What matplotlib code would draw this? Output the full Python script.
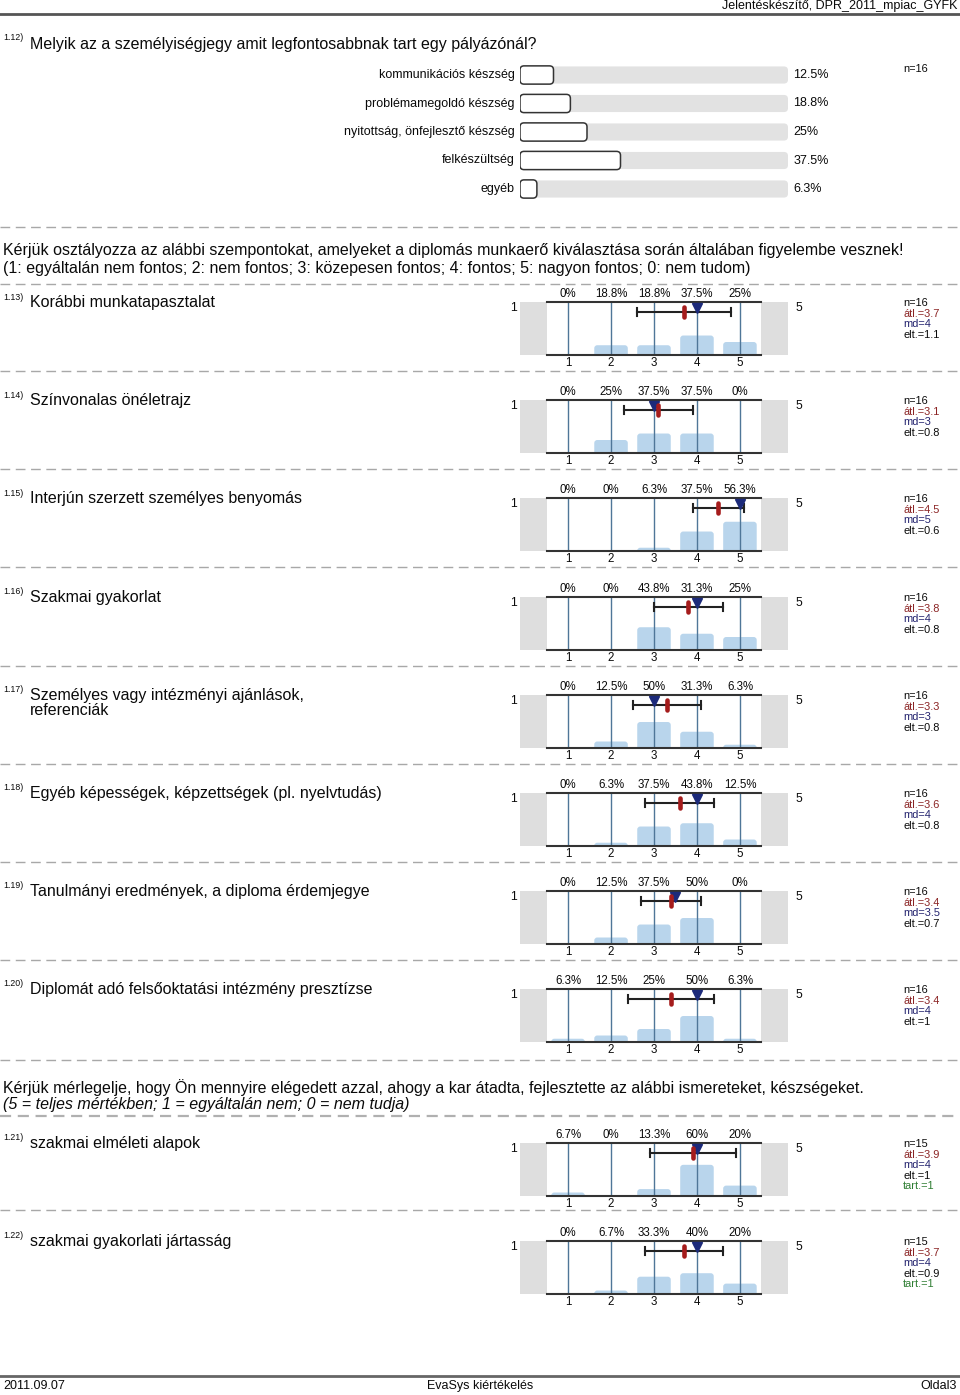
import matplotlib
matplotlib.use('Agg')
import matplotlib.pyplot as plt
from matplotlib.patches import FancyBboxPatch, Rectangle
import matplotlib.transforms as mtransforms

plt.rcParams['font.family'] = ['Liberation Sans', 'DejaVu Sans']

# ---------------- data ----------------
header_text = "Jelentéskészítő, DPR_2011_mpiac_GYFK"
footer_left = "2011.09.07"
footer_mid = "EvaSys kiértékelés"
footer_right = "Oldal3"

q112_id = "1.12)"
q112_title = "Melyik az a személyiségjegy amit legfontosabbnak tart egy pályázónál?"
q112_categories = ["kommunikációs készség", "problémamegoldó készség",
                   "nyitottság, önfejlesztő készség", "felkészültség", "egyéb"]
q112_percent = [12.5, 18.8, 25, 37.5, 6.3]
q112_n = 16

section1_lines = ["Kérjük osztályozza az alábbi szempontokat, amelyeket a diplomás munkaerő kiválasztása során általában figyelembe vesznek!",
                  "(1: egyáltalán nem fontos; 2: nem fontos; 3: közepesen fontos; 4: fontos; 5: nagyon fontos; 0: nem tudom)"]
section2_lines = ["Kérjük mérlegelje, hogy Ön mennyire elégedett azzal, ahogy a kar átadta, fejlesztette az alábbi ismereteket, készségeket.",
                  "(5 = teljes mértékben; 1 = egyáltalán nem; 0 = nem tudja)"]

scale_points = [1, 2, 3, 4, 5]
scale_ids = ["1.13)", "1.14)", "1.15)", "1.16)", "1.17)", "1.18)", "1.19)", "1.20)", "1.21)", "1.22)"]
scale_titles = ["Korábbi munkatapasztalat",
                "Színvonalas önéletrajz",
                "Interjún szerzett személyes benyomás",
                "Szakmai gyakorlat",
                "Személyes vagy intézményi ajánlások,\nreferenciák",
                "Egyéb képességek, képzettségek (pl. nyelvtudás)",
                "Tanulmányi eredmények, a diploma érdemjegye",
                "Diplomát adó felsőoktatási intézmény presztízse",
                "szakmai elméleti alapok",
                "szakmai gyakorlati jártasság"]
scale_pct = [[0, 18.8, 18.8, 37.5, 25],
             [0, 25, 37.5, 37.5, 0],
             [0, 0, 6.3, 37.5, 56.3],
             [0, 0, 43.8, 31.3, 25],
             [0, 12.5, 50, 31.3, 6.3],
             [0, 6.3, 37.5, 43.8, 12.5],
             [0, 12.5, 37.5, 50, 0],
             [6.3, 12.5, 25, 50, 6.3],
             [6.7, 0, 13.3, 60, 20],
             [0, 6.7, 33.3, 40, 20]]
scale_n = [16, 16, 16, 16, 16, 16, 16, 16, 15, 15]
scale_mean = [3.7, 3.1, 4.5, 3.8, 3.3, 3.6, 3.4, 3.4, 3.9, 3.7]
scale_md = [4, 3, 5, 4, 3, 4, 3.5, 4, 4, 4]
scale_sd = [1.1, 0.8, 0.6, 0.8, 0.8, 0.8, 0.7, 1, 1, 0.9]
scale_tart = [None, None, None, None, None, None, None, None, 1, 1]

# ---------------- layout ----------------
W, H = 960, 1395
fig = plt.figure(figsize=(W / 100, H / 100), dpi=100)
bg = fig.add_axes([0, 0, 1, 1])
bg.set_xlim(0, W)
bg.set_ylim(H, 0)
bg.axis('off')

TXT = '#0a0a0a'


def px_axes(x0, y0, x1, y1):
    return fig.add_axes([x0 / W, 1 - y1 / H, (x1 - x0) / W, (y1 - y0) / H])


def round_bars(ax, bars, radius_px, ppx, ppy, extend_bottom=False):
    for b in bars:
        x, y = b.get_x(), b.get_y()
        w, h = b.get_width(), b.get_height()
        b.set_visible(False)
        if w == 0 or h == 0:
            continue
        r = min(radius_px, abs(w) * ppx / 2, abs(h) * ppy / 2 + (radius_px if extend_bottom else 0))
        r = max(r, 0.3)
        if extend_bottom:
            y -= r / ppy
            h += r / ppy
        p = FancyBboxPatch((x, y), w, h,
                           boxstyle=f"round,pad=0,rounding_size={r / ppx}",
                           mutation_aspect=ppx / ppy,
                           facecolor=b.get_facecolor(), edgecolor=b.get_edgecolor(),
                           linewidth=b.get_linewidth(), zorder=b.get_zorder())
        ax.add_patch(p)


DASH = dict(color='#a8a8a8', lw=1.0, linestyle=(0, (7, 4)))

# header / footer
bg.text(957, 6, header_text, ha='right', va='center', fontsize=9.0, color=TXT)
bg.plot([0, W], [14, 14], color='#555555', lw=2)
bg.plot([0, W], [1376, 1376], color='#666666', lw=2)
bg.text(3, 1386, footer_left, ha='left', va='center', fontsize=9.0, color=TXT)
bg.text(480, 1386, footer_mid, ha='center', va='center', fontsize=9.0, color=TXT)
bg.text(957, 1386, footer_right, ha='right', va='center', fontsize=9.0, color=TXT)

# ---------------- question 1.12 ----------------
bg.text(3, 38, q112_id, ha='left', va='center', fontsize=6.3, color=TXT)
bg.text(30, 45, q112_title, ha='left', va='center', fontsize=11.5, color=TXT)

axq = px_axes(520, 60.75, 788, 203.25)
axq.set_xlim(0, 100)
axq.set_ylim(len(q112_categories) - 0.5, -0.5)
axq.axis('off')
idx = list(range(len(q112_categories)))
track = axq.barh(idx, [100] * len(idx), height=0.6, color='#e2e2e2', zorder=1)
round_bars(axq, track, 4, 2.68, 28.5)
bars = axq.barh(idx, q112_percent, height=0.64, facecolor='white', edgecolor='#333333',
                linewidth=1.1, zorder=2)
round_bars(axq, bars, 4, 2.68, 28.5)
for i, (cat, v) in enumerate(zip(q112_categories, q112_percent)):
    axq.text(-1.9, i, cat, ha='right', va='center', fontsize=9.0, color=TXT)
    axq.text(101.9, i, f"{v:g}%", ha='left', va='center', fontsize=9.0, color=TXT)
bg.text(903, 69, f"n={q112_n}", ha='left', va='center', fontsize=7.9, color=TXT)

bg.plot([0, W], [227, 227], **DASH)

# ---------------- section 1 header ----------------
bg.text(3, 250, section1_lines[0], ha='left', va='center', fontsize=11.5, color=TXT)
bg.text(3, 268, section1_lines[1], ha='left', va='center', fontsize=11.5, color=TXT)
bg.plot([0, W], [284, 284], **DASH)

# ---------------- scale items ----------------
label_ys = [294, 392, 490, 589, 687, 785, 883, 981, 1135, 1233]
sep_ys = [371, 469, 567, 666, 764, 862, 960, 1060, 1210, None]

for i in range(len(scale_ids)):
    ly = label_ys[i]
    top = ly + 8
    bot = top + 53
    bg.text(3, ly + 3, scale_ids[i], ha='left', va='center', fontsize=6.3, color=TXT)
    bg.text(30, ly + 1, scale_titles[i], ha='left', va='top', fontsize=11.5,
            color=TXT, linespacing=0.98)
    bg.add_patch(Rectangle((520, top), 27, 53, facecolor='#dedede', edgecolor='none', zorder=0))
    bg.add_patch(Rectangle((761, top), 27, 53, facecolor='#dedede', edgecolor='none', zorder=0))
    bg.text(510, top + 6, "1", ha='left', va='center', fontsize=8.8, color=TXT)
    bg.text(795, top + 6, "5", ha='left', va='center', fontsize=8.8, color=TXT)

    ax = px_axes(547, top, 761, bot)
    ax.set_xlim(0.51, 5.49)
    ax.set_ylim(0, 102)
    ax.patch.set_alpha(0)
    for s in ['left', 'right']:
        ax.spines[s].set_visible(False)
    for s in ['top', 'bottom']:
        ax.spines[s].set_color('#333333')
        ax.spines[s].set_linewidth(1.5)
    ax.set_yticks([])
    ax.set_xticks(scale_points)
    ax.set_xticklabels([str(p) for p in scale_points])
    ax.tick_params(axis='x', length=0, pad=1.5, labelsize=8.3, labelcolor=TXT)
    for p in scale_points:
        ax.axvline(p, color='#4f7698', lw=1.0, zorder=2)
    b = ax.bar(scale_points, scale_pct[i], width=0.78, color='#b9d5ec', zorder=1)
    round_bars(ax, b, 3, 214 / 4.98, 53 / 102, extend_bottom=True)

    trans = mtransforms.blended_transform_factory(ax.transData, ax.transAxes)
    for p, v in zip(scale_points, scale_pct[i]):
        ax.text(p, 1.15, f"{v:g}%", transform=trans, ha='center', va='center',
                fontsize=8.3, color=TXT, clip_on=False)
    m, sd, md = scale_mean[i], scale_sd[i], scale_md[i]
    ey = 0.81
    ax.plot([m - sd, m + sd], [ey, ey], transform=trans, color='#222', lw=1.5, zorder=4,
            clip_on=False)
    for xe in (m - sd, m + sd):
        ax.plot([xe, xe], [ey - 0.07, ey + 0.07], transform=trans, color='#222', lw=1.5,
                zorder=4, clip_on=False)
    ax.plot(md, 0.88, marker='v', ms=6.5, color='#1c2a7a', transform=trans, zorder=5,
            clip_on=False)
    ax.plot([m, m], [0.72, 0.90], transform=trans, color='#a51c1c', lw=3.3,
            solid_capstyle='round', zorder=6, clip_on=False)

    sy = top + 1
    stats = [(f"n={scale_n[i]}", TXT),
             (f"átl.={m:g}", '#8b2424'),
             (f"md={md:g}", '#22226e'),
             (f"elt.={sd:g}", TXT)]
    if scale_tart[i] is not None:
        stats.append((f"tart.={scale_tart[i]:g}", '#2e7d32'))
    for k, (t, c) in enumerate(stats):
        bg.text(903, sy + k * 10.6, t, ha='left', va='center', fontsize=7.9, color=c)

    if sep_ys[i] is not None:
        bg.plot([0, W], [sep_ys[i], sep_ys[i]], **DASH)

# ---------------- section 2 header ----------------
bg.text(3, 1088, section2_lines[0], ha='left', va='center', fontsize=11.5, color=TXT)
bg.text(3, 1105, section2_lines[1], ha='left', va='center', fontsize=11.5, color=TXT,
        style='italic')
bg.plot([0, W], [1116, 1116], color='#b0b0b0', lw=1.6, linestyle=(0, (5, 3)))

fig.savefig('out.png', dpi=100)
